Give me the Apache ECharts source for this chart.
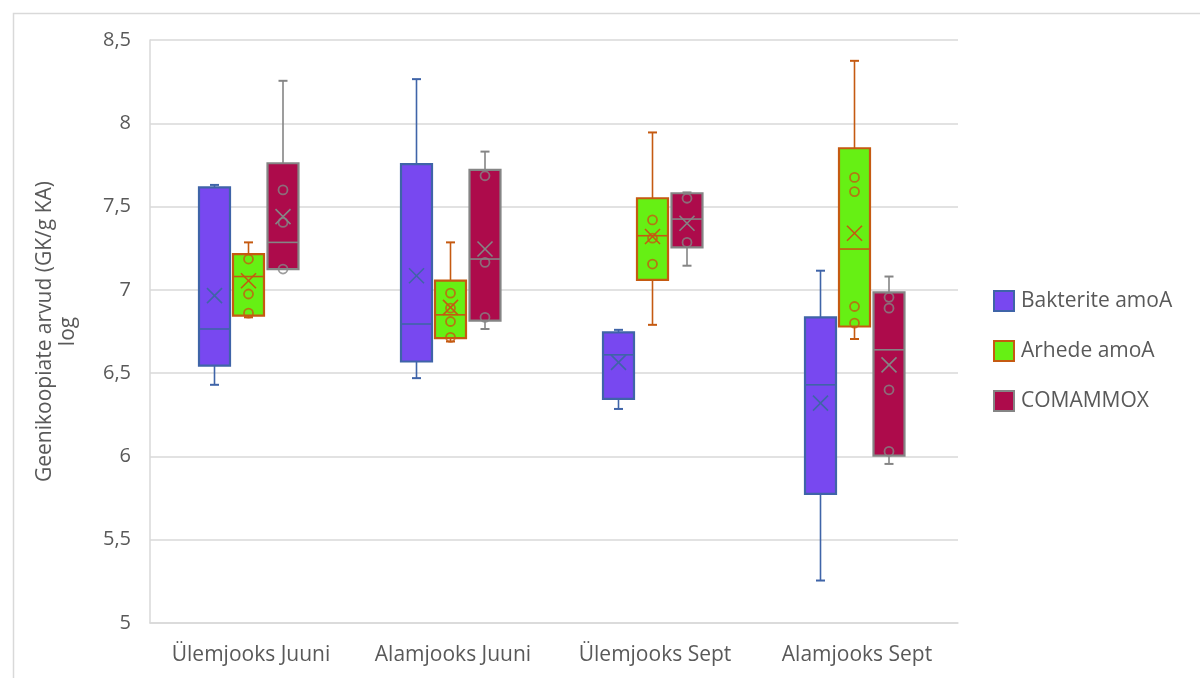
<!DOCTYPE html>
<html>
<head>
<meta charset="utf-8">
<script src="https://cdn.jsdelivr.net/npm/echarts@6/dist/echarts.min.js"></script>
<style>
  html, body { margin: 0; padding: 0; background: #ffffff; }
  #chart { width: 1200px; height: 678px; }
</style>
</head>
<body>
<div id="chart"></div>
<script>
// Sampling sites / months on the x axis
const categories = ['Ülemjooks Juuni', 'Alamjooks Juuni', 'Ülemjooks Sept', 'Alamjooks Sept'];
const seriesNames = ['Bakterite amoA', 'Arhede amoA', 'COMAMMOX'];
const yTicks = [5, 5.5, 6, 6.5, 7, 7.5, 8, 8.5];

// Five-number summaries per category: [min, Q1, median, Q3, max] (log gene copies)
const bakteriteBox = [
  [6.43, 6.545, 6.765, 7.615, 7.63],
  [6.47, 6.57, 6.795, 7.755, 8.265],
  [6.285, 6.345, 6.61, 6.745, 6.76],
  [5.255, 5.775, 6.43, 6.835, 7.115]
];
const bakteriteMean = [6.965, 7.085, 6.565, 6.32];
const bakteritePoints = [[], [], [], []];

const arhedeBox = [
  [6.835, 6.845, 7.08, 7.215, 7.285],
  [6.69, 6.71, 6.85, 7.055, 7.285],
  [6.79, 7.06, 7.325, 7.55, 7.945],
  [6.705, 6.78, 7.245, 7.85, 8.375]
];
const arhedeMean = [7.055, 6.895, 7.32, 7.34];
const arhedePoints = [
  [7.185, 6.975, 6.86],
  [6.98, 6.89, 6.81, 6.715],
  [7.42, 7.31, 7.155],
  [7.675, 7.59, 6.9, 6.8]
];

const comammoxBox = [
  [7.125, 7.125, 7.285, 7.76, 8.255],
  [6.765, 6.815, 7.185, 7.72, 7.83],
  [7.145, 7.255, 7.425, 7.58, 7.585],
  [5.955, 6.005, 6.64, 6.985, 7.08]
];
const comammoxMean = [7.44, 7.245, 7.4, 6.55];
const comammoxPoints = [
  [7.6, 7.405, 7.125],
  [7.685, 7.165, 6.835],
  [7.55, 7.285],
  [6.955, 6.89, 6.4, 6.03]
];

// Drawing styles for the three groups (box offset within a category, colours)
const styles = [
  { offset: -36.5, stroke: '#3f64a8', fill: '#7848f0' },
  { offset: -2.5,  stroke: '#c55a11', fill: '#66f014' },
  { offset: 32,    stroke: '#858585', fill: '#ad0b4b' }
];
const boxStats = [bakteriteBox, arhedeBox, comammoxBox];
const meanStats = [bakteriteMean, arhedeMean, comammoxMean];
const pointStats = [bakteritePoints, arhedePoints, comammoxPoints];

const BOX_W = 31;
const CAP_HALF = 4.5;
const X_HALF = 7.5;
const TEXT = '#595959';
const FONT = 'Open Sans';

function makeRender(style) {
  return function (params, api) {
    const cat = api.value(0);
    const y = v => api.coord([cat, v])[1];
    const cx = api.coord([cat, api.value(3)])[0] + style.offset;
    const yMin = y(api.value(1)), yQ1 = y(api.value(2)), yMed = y(api.value(3));
    const yQ3 = y(api.value(4)), yMax = y(api.value(5)), yMean = y(api.value(6));
    const hw = BOX_W / 2;
    const seg = (x1, y1, x2, y2, w) => ({
      type: 'line',
      shape: { x1, y1, x2, y2 },
      style: { stroke: style.stroke, lineWidth: w || 1.6 }
    });
    return {
      type: 'group',
      children: [
        seg(cx, yMax, cx, yQ3),
        seg(cx, yQ1, cx, yMin),
        seg(cx - CAP_HALF, yMax, cx + CAP_HALF, yMax, 2),
        seg(cx - CAP_HALF, yMin, cx + CAP_HALF, yMin, 2),
        {
          type: 'rect',
          shape: { x: cx - hw, y: yQ3, width: BOX_W, height: yQ1 - yQ3 },
          style: { fill: style.fill, stroke: style.stroke, lineWidth: 2.2 }
        },
        seg(cx - hw, yMed, cx + hw, yMed, 1.6),
        seg(cx - X_HALF, yMean - X_HALF, cx + X_HALF, yMean + X_HALF, 1.6),
        seg(cx - X_HALF, yMean + X_HALF, cx + X_HALF, yMean - X_HALF, 1.6)
      ]
    };
  };
}

const series = [];
seriesNames.forEach((name, s) => {
  series.push({
    name: name,
    type: 'custom',
    renderItem: makeRender(styles[s]),
    encode: { x: 0, y: [1, 2, 3, 4, 5, 6] },
    itemStyle: { color: styles[s].fill, borderColor: styles[s].stroke },
    data: categories.map((c, i) => [i].concat(boxStats[s][i], [meanStats[s][i]])),
    z: 2,
    silent: true
  });
});
seriesNames.forEach((name, s) => {
  const pts = [];
  pointStats[s].forEach((list, i) => list.forEach(v => pts.push([i, v])));
  series.push({
    name: name,
    type: 'scatter',
    data: pts,
    symbol: 'circle',
    symbolSize: 9,
    symbolOffset: [styles[s].offset, 0],
    itemStyle: { color: 'rgba(0,0,0,0)', borderColor: styles[s].stroke, borderWidth: 1.8 },
    z: 3,
    silent: true
  });
});

const chart = echarts.init(document.getElementById('chart'));
chart.setOption({
  animation: false,
  backgroundColor: '#ffffff',
  textStyle: { fontFamily: FONT },
  graphic: [{
    type: 'rect',
    left: 11, top: 11,
    shape: { width: 1300, height: 800 },
    style: { fill: 'none', stroke: '#d9d9d9', lineWidth: 1.5 },
    silent: true
  }],
  grid: { left: 150, right: 242, top: 40, bottom: 55 },
  legend: {
    orient: 'vertical',
    left: 988,
    top: 285,
    itemWidth: 20,
    itemHeight: 20,
    itemGap: 28,
    icon: 'rect',
    selectedMode: false,
    textStyle: { color: TEXT, fontSize: 21, lineHeight: 20, fontFamily: FONT, padding: [0, 0, 0, 2] },
    data: seriesNames.map((n, s) => ({
      name: n,
      itemStyle: { color: styles[s].fill, borderColor: styles[s].stroke, borderWidth: 2 }
    }))
  },
  xAxis: {
    type: 'category',
    data: categories,
    boundaryGap: true,
    axisLine: { lineStyle: { color: '#d9d9d9', width: 1.5 } },
    axisTick: { show: false },
    axisLabel: { color: TEXT, fontSize: 21, fontFamily: FONT, margin: 22, interval: 0 },
    splitLine: { show: false }
  },
  yAxis: {
    type: 'value',
    min: yTicks[0],
    max: yTicks[yTicks.length - 1],
    interval: 0.5,
    name: 'Geenikoopiate arvud (GK/g KA)\nlog',
    nameLocation: 'middle',
    nameRotate: 90,
    nameGap: 70,
    nameTextStyle: { color: TEXT, fontSize: 21, fontFamily: FONT, lineHeight: 23 },
    axisLine: { show: true, lineStyle: { color: '#d9d9d9', width: 1.5 } },
    axisTick: { show: false },
    axisLabel: {
      color: TEXT, fontSize: 20, fontFamily: FONT, margin: 19,
      formatter: v => String(v).replace('.', ',')
    },
    splitLine: { lineStyle: { color: '#d9d9d9', width: 1.5 } }
  },
  series: series
});
</script>
</body>
</html>
